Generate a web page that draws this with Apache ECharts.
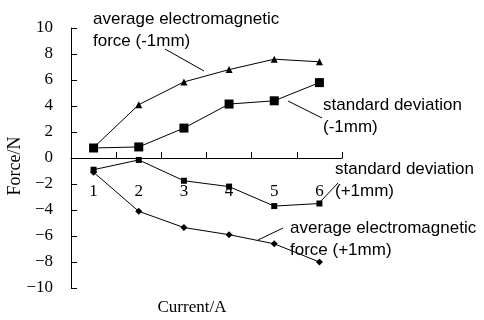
<!DOCTYPE html>
<html>
<head>
<meta charset="utf-8">
<script src="https://cdn.jsdelivr.net/npm/echarts@6/dist/echarts.min.js"></script>
<style>
  html, body { margin: 0; padding: 0; background: #fff; }
  #chart { width: 484px; height: 320px; }
</style>
</head>
<body>
<div id="chart"></div>
<script>
// categories (current, A)
const currents = ['1', '2', '3', '4', '5', '6'];

// series values
const avgMinus = [0.8, 4.1, 5.85, 6.8, 7.6, 7.4];      // average electromagnetic force (-1mm)
const stdMinus = [0.77, 0.85, 2.3, 4.15, 4.4, 5.8];    // standard deviation (-1mm)
const stdPlus = [-0.9, -0.15, -1.75, -2.2, -3.7, -3.5]; // standard deviation (+1mm)
const avgPlus = [-1.1, -4.1, -5.35, -5.9, -6.6, -8.0];  // average electromagnetic force (+1mm)

const serif = '"Liberation Serif", "Times New Roman", serif';
const sans = '"Liberation Sans", Arial, sans-serif';

const chart = echarts.init(document.getElementById('chart'));
const gridBottom = 32;

function lineSeries(data, symbol, size) {
    return {
        type: 'line',
        data: data,
        symbol: symbol,
        symbolSize: size,
        lineStyle: { color: '#000', width: 1 },
        itemStyle: { color: '#000' },
        z: 3
    };
}

function note(x, y, text) {
    return {
        type: 'text', x: x, y: y,
        style: { text: text, font: '17px ' + sans, fill: '#000', lineHeight: 22, verticalAlign: 'top' }
    };
}

function leader(x1, y1, x2, y2) {
    return {
        type: 'line',
        shape: { x1: x1, y1: y1, x2: x2, y2: y2 },
        style: { stroke: '#000', lineWidth: 1 }
    };
}

chart.setOption({
    animation: false,
    grid: { left: 71, right: 142, top: 28, bottom: gridBottom, outerBoundsMode: 'none', containLabel: false },
    xAxis: {
        type: 'category',
        data: currents,
        boundaryGap: true,
        position: 'bottom',
        axisLine: { onZero: false, lineStyle: { color: '#000', width: 1 } },
        axisTick: { show: true, inside: true, length: 6, lineStyle: { color: '#000' } },
        axisLabel: { margin: 25, color: '#000', fontFamily: serif, fontSize: 17 }
    },
    yAxis: {
        type: 'value',
        min: -10, max: 10, interval: 2,
        splitLine: { show: false },
        axisLine: { show: true, lineStyle: { color: '#000', width: 1 } },
        axisTick: { show: true, inside: true, length: 6, lineStyle: { color: '#000' } },
        axisLabel: {
            margin: 18, color: '#000', fontFamily: serif, fontSize: 17,
            formatter: v => String(v).replace('-', '\u2212')
        }
    },
    series: [
        lineSeries(avgMinus, 'triangle', 7),
        lineSeries(stdMinus, 'rect', 9),
        lineSeries(stdPlus, 'rect', 6),
        lineSeries(avgPlus, 'diamond', 7)
    ],
    graphic: [
        note(93, 8, 'average electromagnetic\nforce (-1mm)'),
        note(323, 94, 'standard deviation\n(-1mm)'),
        note(335, 158, 'standard deviation\n(+1mm)'),
        note(290, 217, 'average electromagnetic\nforce (+1mm)'),
        leader(165, 49, 204, 71),
        leader(288, 101, 322, 118),
        leader(320, 202, 338, 183),
        leader(258, 240, 283, 228),
        {
            type: 'text', x: 192, y: 308,
            style: { text: 'Current/A', font: '17px ' + serif, fill: '#000', align: 'center', verticalAlign: 'middle' }
        },
        {
            type: 'text', x: 15, y: 166, rotation: Math.PI / 2,
            style: { text: 'Force/N', font: '18px ' + serif, fill: '#000', align: 'center', verticalAlign: 'middle' }
        }
    ]
});

// move the category axis (line, ticks and labels) up to y = 0
const zeroY = chart.convertToPixel({ yAxisIndex: 0 }, 0);
chart.setOption({ xAxis: { offset: zeroY - (320 - gridBottom) } });
</script>
</body>
</html>
